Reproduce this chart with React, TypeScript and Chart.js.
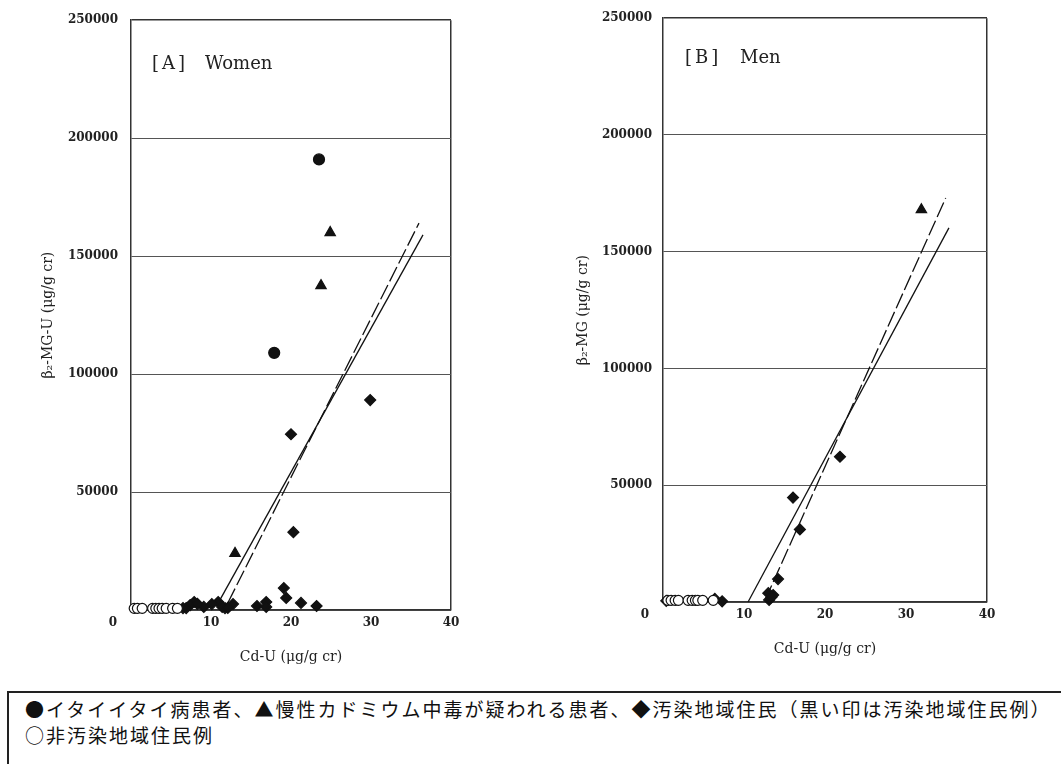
import React, { useEffect, useRef } from "react";
import { Chart, registerables } from "chart.js";

Chart.register(...registerables);

// ---------- Data ----------
const xTicks = [0, 10, 20, 30, 40];
const yTicks = [0, 50000, 100000, 150000, 200000, 250000];

// [A] Women
const womenItaiX = [23.5, 17.9];
const womenItaiY = [191000, 109000];
const womenSuspectX = [24.9, 23.75, 13.0];
const womenSuspectY = [160000, 137500, 24000];
const womenPollutedX = [29.9, 20.0, 20.3, 19.1, 19.4, 21.25, 23.2, 15.75, 16.9, 16.9, 12.75, 11.75, 10.9, 10.1, 9.1, 7.9, 7.4, 6.9, 6.5, 11.4, 12.1, 8.3];
const womenPollutedY = [89000, 74500, 33000, 9300, 5100, 3000, 1700, 1700, 3400, 1300, 2500, 800, 3400, 2500, 1300, 3400, 2100, 800, 800, 1300, 900, 2600];
const womenControlX = [0.4, 0.8, 1.4, 2.7, 3.1, 3.5, 3.9, 4.4, 5.2, 5.8];
const womenControlY = [700, 700, 700, 700, 700, 700, 700, 700, 700, 700];
const womenFitSolidX = [11.1, 36.5];
const womenFitSolidY = [4200, 159000];
const womenFitDashX = [12.1, 36.0];
const womenFitDashY = [3000, 164000];

// [B] Men
const menSuspectX = [31.9];
const menSuspectY = [168000];
const menPollutedX = [21.85, 16.05, 16.9, 14.2, 13.0, 13.6, 13.1, 13.4, 6.4, 7.3, 0.4];
const menPollutedY = [62200, 44700, 31100, 9800, 3800, 3000, 900, 2100, 1300, 300, 500];
const menControlX = [0.6, 1.0, 1.5, 1.9, 3.1, 3.6, 4.0, 4.3, 4.9, 6.2];
const menControlY = [700, 700, 700, 700, 700, 700, 700, 700, 700, 700];
const menFitSolidX = [10.5, 35.3];
const menFitSolidY = [0, 160200];
const menFitDashX = [12.6, 34.9];
const menFitDashY = [800, 173000];

const xTitle = "Cd-U (μg/g cr)";
const yTitleWomen = "β₂-MG-U (μg/g cr)";
const yTitleMen = "β₂-MG (μg/g cr)";
const legendLine1 = "●イタイイタイ病患者、▲慢性カドミウム中毒が疑われる患者、◆汚染地域住民（黒い印は汚染地域住民例）";
const legendLine2 = "○非汚染地域住民例";

// ---------- Helpers ----------
const zip = (xs: number[], ys: number[]) => xs.map((x, i) => ({ x, y: ys[i] }));
const SERIF = "'DejaVu Serif', 'Liberation Serif', serif";

function pointSet(xs: number[], ys: number[], style: string, radius: number, fill: string) {
  return {
    data: zip(xs, ys),
    pointStyle: style,
    pointRadius: radius,
    pointBackgroundColor: fill,
    pointBorderColor: "#111",
    pointBorderWidth: 1.2,
    showLine: false,
    clip: false as any,
  };
}

function lineSet(xs: number[], ys: number[], dash: number[]) {
  return {
    data: zip(xs, ys),
    showLine: true,
    borderColor: "#111",
    borderWidth: 1.3,
    borderDash: dash,
    pointRadius: 0,
    fill: false,
    clip: false as any,
  };
}

interface PanelProps {
  datasets: any[];
  yTitle: string;
  padding: { left: number; top: number; right: number; bottom: number };
  yWidth: number;
  yPad: number;
  width: number;
  height: number;
  left: number;
}

function Panel(props: PanelProps) {
  const ref = useRef<HTMLCanvasElement>(null);
  useEffect(() => {
    if (!ref.current) return;
    const chart = new Chart(ref.current, {
      type: "scatter",
      data: { datasets: props.datasets },
      options: {
        animation: false,
        responsive: false,
        layout: { padding: props.padding },
        plugins: { legend: { display: false }, tooltip: { enabled: false } },
        scales: {
          x: {
            type: "linear",
            min: xTicks[0],
            max: xTicks[xTicks.length - 1],
            afterBuildTicks: (s: any) => {
              s.ticks = xTicks.map((v) => ({ value: v }));
            },
            afterFit: (s: any) => {
              s.height = 56;
            },
            ticks: {
              font: { family: SERIF, size: 12, weight: "bold" },
              color: "#222",
              padding: 6,
              maxRotation: 0,
              callback: (v: any) => (Number(v) === 0 ? "0\u2003\u2003\u2003" : String(v)),
            },
            grid: {
              drawTicks: false,
              color: (c: any) => (c.tick && c.tick.value === 40 ? "#333" : "rgba(0,0,0,0)"),
              lineWidth: 1.5,
            },
            border: { display: true, color: "#333", width: 1.5 },
            title: {
              display: true,
              text: xTitle,
              font: { family: SERIF, size: 14 },
              color: "#222",
              padding: 0,
            },
          },
          y: {
            type: "linear",
            min: yTicks[0],
            max: yTicks[yTicks.length - 1],
            afterBuildTicks: (s: any) => {
              s.ticks = yTicks.map((v) => ({ value: v }));
            },
            afterFit: (s: any) => {
              s.width = props.yWidth;
            },
            ticks: {
              font: { family: SERIF, size: 12, weight: "bold" },
              color: "#222",
              padding: props.yPad,
              callback: (v: any) => (Number(v) === 0 ? "" : String(v)),
            },
            grid: {
              drawTicks: false,
              color: (c: any) => (c.tick && c.tick.value === 250000 ? "#333" : "#555"),
              lineWidth: (c: any) => (c.tick && c.tick.value === 250000 ? 1.5 : 1),
            },
            border: { display: true, color: "#333", width: 1.5 },
            title: {
              display: true,
              text: props.yTitle,
              font: { family: SERIF, size: 14 },
              color: "#222",
              padding: 0,
            },
          },
        },
      } as any,
    });
    return () => chart.destroy();
  }, []);
  return (
    <canvas
      ref={ref}
      width={props.width}
      height={props.height}
      style={{ position: "absolute", left: props.left, top: 0, width: props.width, height: props.height }}
    />
  );
}

const panelLabelStyle: React.CSSProperties = {
  position: "absolute",
  fontFamily: SERIF,
  fontSize: 18,
  color: "#222",
  whiteSpace: "pre",
  lineHeight: "22px",
};

export default function App() {
  const womenSets = [
    lineSet(womenFitSolidX, womenFitSolidY, []),
    lineSet(womenFitDashX, womenFitDashY, [16, 4]),
    pointSet(womenControlX, womenControlY, "circle", 5, "#fff"),
    pointSet(womenPollutedX, womenPollutedY, "rectRot", 5.5, "#111"),
    pointSet(womenSuspectX, womenSuspectY, "triangle", 6, "#111"),
    pointSet(womenItaiX, womenItaiY, "circle", 5.5, "#111"),
  ];
  const menSets = [
    lineSet(menFitSolidX, menFitSolidY, []),
    lineSet(menFitDashX, menFitDashY, [16, 4]),
    pointSet(menControlX, menControlY, "circle", 5, "#fff"),
    pointSet(menPollutedX, menPollutedY, "rectRot", 5.5, "#111"),
    pointSet(menSuspectX, menSuspectY, "triangle", 6, "#111"),
  ];
  return (
    <div
      style={{
        position: "fixed",
        left: 0,
        top: 0,
        width: 1061,
        height: 764,
        overflow: "hidden",
        background: "#fff",
      }}
    >
      <Panel
        datasets={womenSets}
        yTitle={yTitleWomen}
        padding={{ left: 40, top: 19, right: 69, bottom: 14 }}
        yWidth={91}
        yPad={13}
        width={520}
        height={680}
        left={0}
      />
      <Panel
        datasets={menSets}
        yTitle={yTitleMen}
        padding={{ left: 45, top: 15, right: 23, bottom: 22 }}
        yWidth={88}
        yPad={11}
        width={480}
        height={680}
        left={530}
      />
      <div style={{ ...panelLabelStyle, left: 152, top: 52, letterSpacing: "3px" }}>[A]</div>
      <div style={{ ...panelLabelStyle, left: 205, top: 52 }}>Women</div>
      <div style={{ ...panelLabelStyle, left: 685, top: 46, letterSpacing: "3px" }}>[B]</div>
      <div style={{ ...panelLabelStyle, left: 740, top: 46 }}>Men</div>
      <div
        style={{
          position: "absolute",
          left: 7,
          top: 691,
          width: 1100,
          height: 120,
          border: "2px solid #222",
          boxSizing: "border-box",
          padding: "3px 0 0 16px",
          fontFamily: "'Noto Sans CJK JP', sans-serif",
          fontSize: 19,
          lineHeight: "26px",
          letterSpacing: "2px",
          color: "#111",
          whiteSpace: "nowrap",
        }}
      >
        <div>{legendLine1}</div>
        <div>{legendLine2}</div>
      </div>
    </div>
  );
}
